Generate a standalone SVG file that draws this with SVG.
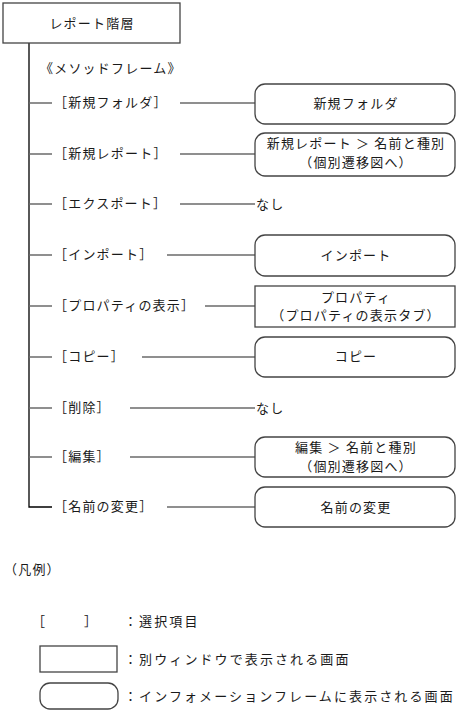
<svg xmlns="http://www.w3.org/2000/svg" width="460" height="712" viewBox="0 0 460 712">
<style>
text{font-family:"Noto Sans CJK JP","Noto Sans CJK SC",sans-serif;font-size:13px;fill:#1a1a1a;letter-spacing:1.2px;}
.c{text-anchor:middle;}
.lg{letter-spacing:2.1px;}
.ns{letter-spacing:0;}
.box{fill:#fff;stroke:#444;stroke-width:1.3;}
.trunk{fill:none;stroke:#000;stroke-width:1.3;}
.ln{fill:none;stroke:#6a6a6a;stroke-width:1.5;}
</style>
<rect width="460" height="712" fill="#fff"/>
<g id="connectors">
<polyline class="trunk" points="29,43 29,507 52,507"/>
<line class="ln" x1="29" y1="103" x2="52" y2="103"/>
<line class="ln" x1="29" y1="154" x2="52" y2="154"/>
<line class="ln" x1="29" y1="204" x2="52" y2="204"/>
<line class="ln" x1="29" y1="255" x2="52" y2="255"/>
<line class="ln" x1="29" y1="306" x2="52" y2="306"/>
<line class="ln" x1="29" y1="357" x2="52" y2="357"/>
<line class="ln" x1="29" y1="408" x2="52" y2="408"/>
<line class="ln" x1="29" y1="457" x2="52" y2="457"/>
<line class="ln" x1="180" y1="103" x2="255" y2="103"/>
<line class="ln" x1="180" y1="154" x2="255" y2="154"/>
<line class="ln" x1="180" y1="204" x2="255" y2="204"/>
<line class="ln" x1="167" y1="255" x2="255" y2="255"/>
<line class="ln" x1="205" y1="306" x2="255" y2="306"/>
<line class="ln" x1="142" y1="357" x2="255" y2="357"/>
<line class="ln" x1="130" y1="408" x2="255" y2="408"/>
<line class="ln" x1="130" y1="457" x2="255" y2="457"/>
<line class="ln" x1="167" y1="507" x2="255" y2="507"/>
</g>
<g id="root">
<rect class="box" x="3" y="3" width="177" height="40"/>
<text class="c" x="92" y="28">レポート階層</text>
</g>
<g id="frame-label"><text x="40" y="73">《メソッドフレーム》</text></g>
<g id="labels">
<text x="54" y="107">［新規フォルダ］</text>
<text x="54" y="158">［新規レポート］</text>
<text x="54" y="208">［エクスポート］</text>
<text x="54" y="259">［インポート］</text>
<text x="54" y="310">［プロパティの表示］</text>
<text x="54" y="361">［コピー］</text>
<text x="54" y="412">［削除］</text>
<text x="54" y="461">［編集］</text>
<text x="54" y="511">［名前の変更］</text>
</g>
<g id="n-folder"><rect class="box" x="255" y="84" width="200" height="40" rx="10"/><text class="c" x="356" y="108">新規フォルダ</text></g>
<g id="n-report"><rect class="box" x="255" y="133" width="200" height="43" rx="10"/><text class="c" x="356" y="148">新規レポート ＞ 名前と種別</text><text class="c" x="356" y="167">（個別遷移図へ）</text></g>
<g id="n-export-none"><text x="256" y="209">なし</text></g>
<g id="n-import"><rect class="box" x="255" y="235" width="200" height="41" rx="10"/><text class="c" x="356" y="260">インポート</text></g>
<g id="n-property"><rect class="box" x="255" y="286" width="200" height="41"/><text class="c" x="356" y="302">プロパティ</text><text class="c" x="356" y="320">（プロパティの表示タブ）</text></g>
<g id="n-copy"><rect class="box" x="255" y="337" width="200" height="40" rx="10"/><text class="c" x="356" y="361">コピー</text></g>
<g id="n-delete-none"><text x="256" y="413">なし</text></g>
<g id="n-edit"><rect class="box" x="255" y="437" width="200" height="40" rx="10"/><text class="c" x="356" y="452">編集 ＞ 名前と種別</text><text class="c" x="356" y="471">（個別遷移図へ）</text></g>
<g id="n-rename"><rect class="box" x="255" y="487" width="200" height="40" rx="10"/><text class="c" x="356" y="512">名前の変更</text></g>
<g id="legend">
<text x="4" y="574">（凡例）</text>
<text class="ns" x="32" y="626">［　　　］</text>
<text class="lg" x="124" y="626">：選択項目</text>
<rect class="box" x="40" y="646" width="77" height="26"/>
<text class="lg" x="124" y="664">：別ウィンドウで表示される画面</text>
<rect class="box" x="40" y="683" width="78" height="26" rx="10"/>
<text class="lg" x="124" y="701">：インフォメーションフレームに表示される画面</text>
</g>
</svg>
